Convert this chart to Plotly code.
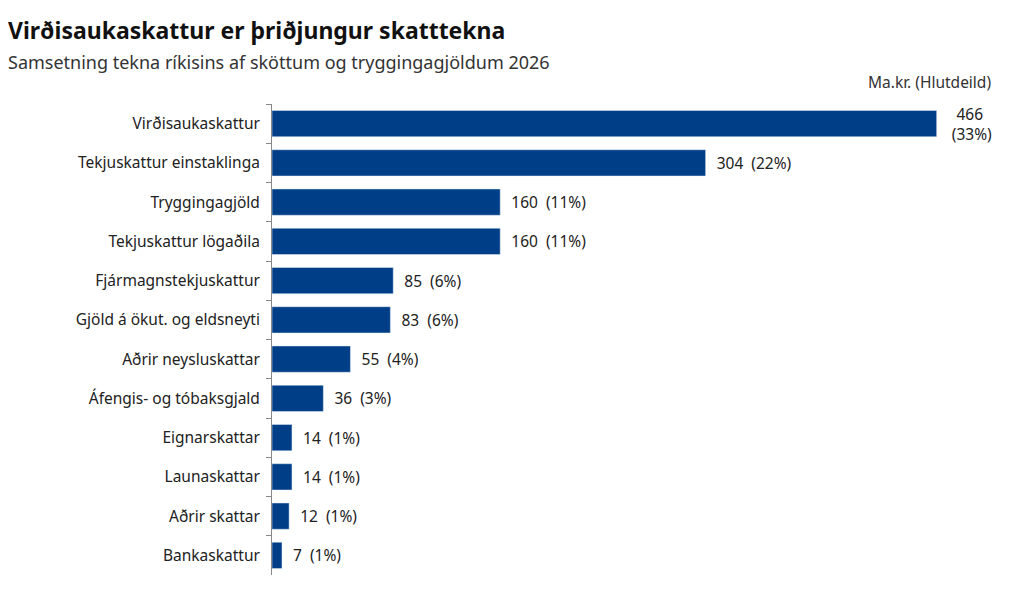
import plotly.graph_objects as go

categories = ["Virðisaukaskattur", "Tekjuskattur einstaklinga", "Tryggingagjöld",
              "Tekjuskattur lögaðila", "Fjármagnstekjuskattur", "Gjöld á ökut. og eldsneyti",
              "Aðrir neysluskattar", "Áfengis- og tóbaksgjald", "Eignarskattar",
              "Launaskattar", "Aðrir skattar", "Bankaskattur"]
values = [466, 304, 160, 160, 85, 83, 55, 36, 14, 14, 12, 7]
shares = [33, 22, 11, 11, 6, 6, 4, 3, 1, 1, 1, 1]

labels = []
for i, (v, s) in enumerate(zip(values, shares)):
    if i == 0:
        labels.append(f"  {v}<br>   ({s}%)")
    else:
        labels.append(f"  {v}  ({s}%)")

fig = go.Figure(go.Bar(
    x=values, y=categories, orientation="h",
    marker_color="#003f87",
    text=labels, textposition="outside", cliponaxis=False, constraintext="none",
    textfont=dict(size=15.5, color="#222"),
))

fig.update_layout(
    width=1024, height=593,
    margin=dict(l=264, r=24, t=96, b=26),
    paper_bgcolor="white", plot_bgcolor="white",
    font=dict(family="Noto Sans", size=15.5, color="#222"),
    bargap=0.33,
    showlegend=False,
    title=dict(text="<b>Virðisaukaskattur er þriðjungur skatttekna</b>",
               x=0.0, xanchor="left", y=0.975, yanchor="top",
               font=dict(size=23, color="#111")),
    annotations=[
        dict(text="Samsetning tekna ríkisins af sköttum og tryggingagjöldum 2026",
             xref="paper", yref="paper", x=-0.362, y=1.118, xanchor="left", yanchor="top",
             showarrow=False, align="left", font=dict(size=18, color="#333")),
        dict(text="Ma.kr. (Hlutdeild)",
             xref="paper", yref="paper", x=0.98, y=1.075, xanchor="right", yanchor="top",
             showarrow=False, font=dict(size=15.5, color="#333")),
    ],
)
fig.update_xaxes(range=[0, 516], visible=False)
fig.update_yaxes(autorange="reversed", showline=True, linecolor="#888", linewidth=1,
                 ticks="outside", tickcolor="#888", ticklen=5, tickson="boundaries",
                 ticklabelstandoff=8)

fig.write_html("out.html")
